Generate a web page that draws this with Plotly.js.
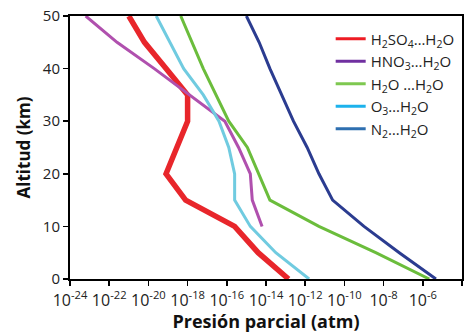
<!DOCTYPE html>
<html><head><meta charset="utf-8">
<script src="https://cdn.plot.ly/plotly-3.0.1.min.js"></script>
<style>html,body{margin:0;padding:0;background:#fff}#c{width:470px;height:333px}</style>
</head><body><div id="c"></div>
<script>
// Altitud (km) and log10 of partial pressure (atm)
const altH2SO4 = [50, 45, 40, 35, 30, 20, 15, 10, 5, 0];
const logH2SO4 = [-21.0, -20.2, -19.1, -18.0, -18.0, -19.1, -18.1, -15.6, -14.4, -12.85];
const altHNO3 = [50, 45, 40, 35, 30, 25, 20, 15, 10];
const logHNO3 = [-23.2, -21.6, -19.7, -17.9, -16.1, -15.4, -14.8, -14.7, -14.2];
const altH2O = [50, 40, 30, 25, 15, 10, 5, 0];
const logH2O = [-18.35, -17.2, -15.9, -14.95, -13.8, -11.3, -8.4, -5.67];
const altO3 = [50, 40, 35, 30, 25, 20, 15, 10, 5, 0];
const logO3 = [-19.6, -18.2, -17.2, -16.4, -15.9, -15.6, -15.6, -14.8, -13.5, -11.8];
const altN2 = [50, 45, 40, 35, 30, 25, 20, 15, 10, 5, 0];
const logN2 = [-15.0, -14.35, -13.8, -13.2, -12.6, -11.9, -11.3, -10.6, -9.0, -7.2, -5.33];

const names = ['H<sub>2</sub>SO<sub>4</sub>…H<sub>2</sub>O', 'HNO<sub>3</sub>…H<sub>2</sub>O',
  'H<sub>2</sub>O …H<sub>2</sub>O', 'O<sub>3</sub>…H<sub>2</sub>O', 'N<sub>2</sub>…H<sub>2</sub>O'];
const tickExp = [-24, -22, -20, -18, -16, -14, -12, -10, -8, -6, -4];

const toP = a => a.map(v => Math.pow(10, v));
const series = [
  {alt: altH2SO4, lg: logH2SO4, col: '#e8262b', leg: '#ee1c24', w: 5.5},
  {alt: altHNO3, lg: logHNO3, col: '#b050ae', leg: '#7030a0', w: 3},
  {alt: altH2O, lg: logH2O, col: '#6bbd3c', leg: '#7ec850', w: 3},
  {alt: altO3, lg: logO3, col: '#70cbe0', leg: '#1cb2ec', w: 3},
  {alt: altN2, lg: logN2, col: '#2b3c90', leg: '#2e6fb0', w: 3},
];
const traces = [];
series.forEach(s => traces.push({x: toP(s.lg), y: s.alt, mode: 'lines', type: 'scatter',
  line: {color: s.col, width: s.w}, showlegend: false, hoverinfo: 'skip'}));
series.forEach((s, i) => traces.push({x: [null], y: [null], mode: 'lines', type: 'scatter',
  name: names[i], line: {color: s.leg, width: 3}, showlegend: true}));

const layout = {
  width: 470, height: 333,
  margin: {l: 70, r: 8, t: 16, b: 54},
  paper_bgcolor: '#fff', plot_bgcolor: '#fff',
  font: {family: 'Open Sans, sans-serif', color: '#222'},
  showlegend: true,
  legend: {x: 0.665, y: 0.975, xanchor: 'left', yanchor: 'top', bgcolor: 'rgba(0,0,0,0)',
    font: {size: 15, color: '#222'}, tracegroupgap: 0, itemwidth: 30},
  xaxis: {type: 'log', range: [-24, -4], tickvals: tickExp.map(e => Math.pow(10, e)),
    ticktext: tickExp.map(e => '10<sup>' + e + '</sup>'),
    ticks: 'outside', ticklen: 5, tickwidth: 1.5, tickcolor: '#000', ticklabelstandoff: 1,
    showline: true, linecolor: '#000', linewidth: 2, mirror: true, showgrid: false, zeroline: false,
    tickfont: {size: 16, color: '#222'},
    title: {text: '<b>Presión parcial (atm)</b>', font: {size: 18, color: '#111'}, standoff: 1}},
  yaxis: {range: [0, 50], dtick: 10, ticks: 'outside', ticklen: 5, tickwidth: 1.5, tickcolor: '#000',
    showline: true, linecolor: '#000', linewidth: 2, mirror: true, showgrid: false, zeroline: false,
    tickfont: {size: 15, color: '#222'},
    title: {text: '<b>Altitud (km)</b>', font: {size: 17, color: '#111'}, standoff: 8}}
};
Plotly.newPlot('c', traces, layout, {displayModeBar: false, staticPlot: true});
</script></body></html>
